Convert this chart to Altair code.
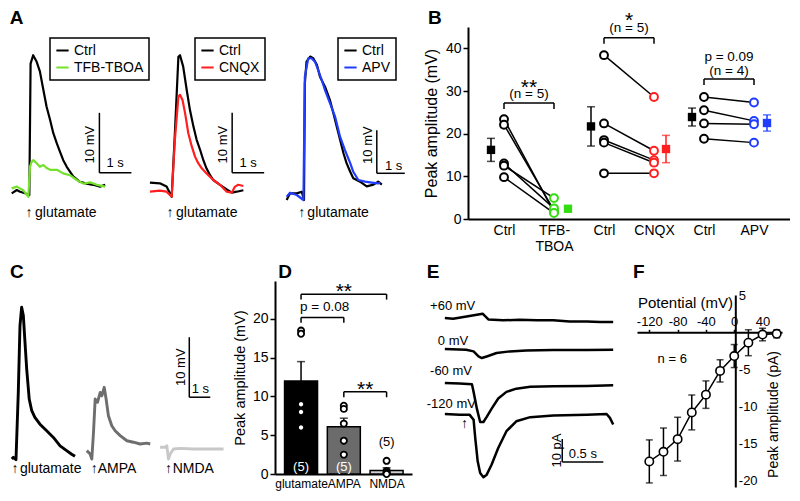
import json
import altair as alt
import pandas as pd

FONT = "Liberation Sans"
GREEN_TR = "#74e02c"
GREEN = "#33dd11"
RED = "#ff1f1f"
BLUE = "#1f3cff"

# ---------------- Panel A (t: s from puff, v: mV) ----------------
A1_ctrl_t = [-0.54, -0.38, -0.28, -0.125, 0.01, 0.05, 0.13, 0.24, 0.34, 0.45, 0.55, 0.66, 0.76, 0.87, 0.97, 1.07, 1.18, 1.28, 1.38, 1.59, 1.8, 2.01, 2.22, 2.38]
A1_ctrl_v = [0.28, 0.83, 0.55, 0.28, 0.0, 21.9, 23.3, 22.2, 20.6, 17.5, 14.7, 12.5, 10.3, 8.6, 7.2, 5.8, 4.7, 3.9, 3.1, 2.2, 1.9, 1.7, 1.4, 1.7]
A1_drug_t = [-0.54, -0.38, -0.18, -0.02, 0.03, 0.08, 0.13, 0.24, 0.34, 0.45, 0.55, 0.66, 0.87, 1.07, 1.28, 1.49, 1.7, 1.91, 2.12, 2.38]
A1_drug_v = [1.1, 1.4, 0.8, -0.3, 4.7, 5.5, 5.8, 5.3, 4.7, 5.0, 4.5, 4.2, 4.2, 3.6, 3.3, 2.5, 1.9, 2.1, 1.7, 1.4]

A2_ctrl_t = [-0.69, -0.38, -0.17, -0.01, 0.09, 0.2, 0.25, 0.35, 0.46, 0.56, 0.67, 0.77, 0.88, 0.98, 1.08, 1.19, 1.29, 1.5, 1.71, 1.87, 2.02, 2.23]
A2_ctrl_v = [2.05, 1.95, 1.4, -0.3, 10.3, 23.05, 23.3, 21.4, 17.5, 14.2, 11.4, 9.2, 7.5, 5.8, 4.4, 3.3, 2.5, 1.7, 0.95, 0.4, 0.55, 0.8]
A2_drug_t = [-0.69, -0.38, -0.17, -0.01, 0.09, 0.2, 0.25, 0.33, 0.41, 0.51, 0.62, 0.72, 0.82, 0.93, 1.08, 1.29, 1.5, 1.71, 1.87, 1.97, 2.07, 2.23]
A2_drug_v = [0.55, 0.72, 0.55, -0.28, 9.2, 16.4, 16.7, 15.8, 13.6, 10.3, 8.05, 6.4, 5.3, 4.45, 3.6, 2.5, 1.7, 0.55, 0.4, 1.4, 1.7, 1.5]

A3_ctrl_t = [-0.62, -0.5, -0.26, -0.08, 0.0, 0.03, 0.09, 0.22, 0.33, 0.46, 0.57, 0.75, 0.93, 1.05, 1.17, 1.29, 1.41, 1.52, 1.65, 1.76, 2.0, 2.24, 2.48, 2.65, 2.78]
A3_ctrl_v = [-1.16, 0.39, 0.39, 0.77, -1.16, 25.9, 31.0, 32.2, 31.8, 30.3, 27.5, 25.2, 22.0, 19.0, 15.9, 12.8, 9.7, 7.4, 5.4, 3.9, 3.1, 2.0, 2.4, 3.1, 2.4]
A3_drug_t = [-0.62, -0.5, -0.26, -0.02, 0.03, 0.15, 0.27, 0.39, 0.51, 0.63, 0.75, 0.93, 1.11, 1.29, 1.46, 1.65, 1.76, 1.94, 2.18, 2.42, 2.65, 2.72]
A3_drug_v = [-0.39, 0.53, 0.0, -1.16, 27.5, 31.8, 31.8, 31.0, 29.0, 26.8, 24.4, 21.3, 18.2, 13.5, 10.5, 7.4, 5.4, 3.5, 3.1, 2.9, 2.7, 2.9]

# ---------------- Panel B ----------------
B_pos_labels = [["Ctrl"], ["TFB-", "TBOA"], ["Ctrl"], ["CNQX"], ["Ctrl"], ["APV"]]
B_tfb_ctrl = [23.4, 22.1, 13.0, 12.5, 9.8]
B_tfb_drug = [1.6, 2.0, 2.5, 4.9, 1.4]
B_cnqx_ctrl = [38.4, 22.4, 18.5, 17.9, 10.7]
B_cnqx_drug = [28.6, 16.0, 13.8, 13.2, 10.7]
B_apv_ctrl = [28.6, 25.5, 22.4, 18.8]
B_apv_drug = [27.3, 23.0, 22.2, 17.9]
B_mean = [16.2, 2.4, 21.7, 16.4, 23.9, 22.5]
B_sem = [2.7, 0.5, 4.6, 3.2, 2.1, 1.9]
B_mean_pos = [0.74, 2.28, 2.74, 4.24, 4.76, 6.26]
B_groups = ["ctrl", "tfb", "ctrl", "cnqx", "ctrl", "apv"]

# ---------------- Panel C (T: s, v: mV) ----------------
C_glu_t = [-0.2, -0.13, 0, 0.11, 0.19, 0.27, 0.35, 0.43, 0.51, 0.63, 0.75, 0.9, 1.14, 1.46, 1.78, 2.1, 2.41, 2.65, 2.81]
C_glu_v = [0, 0.28, -0.1, 11.1, 22.2, 25.3, 23.9, 19.4, 15.0, 10.0, 8.05, 6.95, 5.8, 4.7, 3.6, 2.2, 1.4, 0.8, 0.45]
C_ampa_t = [-0.24, -0.08, 0, 0.08, 0.16, 0.27, 0.4, 0.48, 0.59, 0.68, 0.79, 0.95, 1.11, 1.35, 1.67, 1.98, 2.3, 2.62, 2.78]
C_ampa_v = [1.4, 0.83, 0, 4.45, 10.0, 9.45, 11.1, 10.55, 11.95, 10.0, 7.2, 5.55, 4.7, 3.9, 3.05, 2.8, 2.5, 2.65, 2.5]
C_nmda_t = [-0.32, -0.08, 0, 0.08, 0.16, 0.32, 0.63, 1.27, 1.9, 2.7]
C_nmda_v = [1.95, 1.95, 2.2, 0, 0.83, 1.67, 1.78, 1.67, 1.67, 1.67]
C_names = ["glutamate", "AMPA", "NMDA"]
C_colors = ["#000000", "#6e6e6e", "#c8c8c8"]
C_start = [0.38, 3.99, 7.56]

# ---------------- Panel D ----------------
D_cats = ["glutamate", "AMPA", "NMDA"]
D_mean = [12.0, 6.1, 0.45]
D_sem = [2.5, 1.1, 0.35]
D_pts = [[18.5, 18.1, 9.0, 8.0, 6.0], [8.8, 8.4, 6.5, 4.3, 2.5], [1.7, 0.4, 0.2, 0.1, 0.0]]
D_n = ["(5)", "(5)", "(5)"]
D_fill = ["#000000", "#6b6b6b", "#cfcfcf"]

# ---------------- Panel E (t: s, i: pA) ----------------
E_names = ["+60 mV", "0 mV", "-60 mV", "-120 mV"]
E_t = [
    [0, 0.1, 0.3, 0.46, 0.53, 0.71, 0.91, 1.12, 1.32, 1.52, 1.73, 1.89, 2.05],
    [0, 0.26, 0.35, 0.41, 0.45, 0.51, 0.63, 0.79, 0.99, 1.32, 1.73, 2.05],
    [0, 0.18, 0.33, 0.35, 0.39, 0.43, 0.47, 0.51, 0.57, 0.65, 0.75, 0.87, 1.04, 1.32, 1.73, 2.05],
    [0, 0.18, 0.3, 0.35, 0.37, 0.4, 0.43, 0.47, 0.51, 0.57, 0.65, 0.75, 0.87, 1.04, 1.32, 1.73, 1.97, 2.01, 2.05],
]
E_i = [
    [0, -0.3, 0.9, 1.9, -0.6, -1.0, -0.7, -1.0, -1.0, -1.5, -1.5, -1.7, -1.7],
    [0, -0.3, -1.0, -3.2, -3.9, -3.2, -1.7, -1.0, -0.6, -0.4, -0.4, -0.3],
    [0, -0.3, -0.6, -3.9, -11.2, -17.0, -17.0, -14.8, -11.2, -6.8, -3.9, -2.5, -1.7, -1.5, -1.3, -1.0],
    [0, -0.3, -0.3, -2.5, -10.4, -20.6, -25.7, -27.5, -26.4, -22.0, -14.8, -7.5, -3.2, -1.4, -0.7, -0.3, 0, -1.7, -4.6],
]
E_offset = [75.2, 61.7, 47.0, 33.5]

# ---------------- Panel F ----------------
F_V = [-120, -100, -80, -60, -40, -20, 0, 20, 40, 60]
F_I = [-17.4, -16.1, -14.4, -10.8, -8.4, -5.2, -3.2, -1.4, -0.3, -0.2]
F_sem = [2.9, 3.2, 2.95, 2.35, 1.85, 1.5, 1.55, 1.75, 0.85, 0.55]


# ================= helpers =================
def sc(dom):
    return alt.Scale(domain=dom, nice=False, zero=False)


def pos(dx, dy):
    return dict(x=alt.X("x:Q", scale=sc(dx), axis=None), y=alt.Y("y:Q", scale=sc(dy), axis=None))


def rules(df, enc, sw=1.5, color="black"):
    return alt.Chart(df).mark_rule(strokeWidth=sw, color=color).encode(**enc, x2="x2:Q", y2="y2:Q")


def texts(df, enc, **kw):
    style = dict(font=FONT, fontSize=14, color="black", align="left", baseline="middle")
    style.update(kw)
    return alt.Chart(df).mark_text(**style).encode(**enc, text="text:N")


def tdf(xs, ys, ts):
    return pd.DataFrame({"x": xs, "y": ys, "text": ts})


def scalebar(x0, y0, lx, ly):
    return pd.DataFrame({"x": [x0, x0], "y": [y0, y0], "x2": [x0, x0 + lx], "y2": [y0 + ly, y0]})


def errbars(xs, means, sems, extra=None):
    lo = [m - s for m, s in zip(means, sems)]
    hi = [m + s for m, s in zip(means, sems)]
    bar = pd.DataFrame({"x": xs, "y": lo, "y2": hi})
    caps = pd.DataFrame({"x": xs + xs, "y": lo + hi})
    if extra is not None:
        bar["g"] = extra
        caps["g"] = extra + extra
    return bar, caps


def spacer(w, h):
    return alt.Chart(pd.DataFrame({"x": [0]})).mark_point(opacity=0).encode(
        x=alt.X("x:Q", axis=None), y=alt.Y("x:Q", axis=None)).properties(width=w, height=h)


def a_panel(ct, cv, dt, dv, drug, dcol, dx, dy, w, h, lx, bar, tx10, tx1, arr_x, lab_x, lab_y, letter=None):
    df = pd.DataFrame({"x": ct + dt, "y": cv + dv, "c": ["Ctrl"] * len(ct) + [drug] * len(dt)})
    enc = pos(dx, dy)
    leg = alt.Legend(title=None, orient="none", legendX=lx, legendY=30, symbolType="stroke",
                     symbolSize=150, symbolStrokeWidth=2, strokeColor="black", padding=5,
                     labelFont=FONT, labelFontSize=14, labelColor="black", rowPadding=2,
                     labelOffset=4, labelLimit=0)
    lines = alt.Chart(df).mark_line(strokeWidth=2.2, strokeJoin="round").encode(
        **enc, color=alt.Color("c:N", scale=alt.Scale(domain=["Ctrl", drug], range=["black", dcol]), legend=leg))
    layers = [lines, rules(scalebar(bar[0], bar[1], 1, 10), enc),
              texts(tdf([tx10[0]], [tx10[1]], ["10 mV"]), enc, angle=270, align="center", fontSize=13),
              texts(tdf([tx1[0]], [tx1[1]], ["1 s"]), enc, align="center", fontSize=13),
              texts(tdf([arr_x], [lab_y], ["↑"]), enc, align="center", fontWeight="bold", fontSize=14),
              texts(tdf([lab_x], [lab_y], ["glutamate"]), enc)]
    if letter:
        layers.append(texts(tdf([letter[0]], [letter[1]], [letter[2]]), enc, fontWeight="bold", fontSize=19))
    return alt.layer(*layers).properties(width=w, height=h)


# ================= A =================
A1 = a_panel(A1_ctrl_t, A1_ctrl_v, A1_drug_t, A1_drug_v, "TFB-TBOA", GREEN_TR,
             [-0.656, 3.656], [-4, 31.17], 138, 211, 42, (2.2, 3.7), (1.92, 8.4), (2.69, 5.3),
             0.0, 0.19, -3.05, letter=(-0.6, 29.5, "A"))
A2 = a_panel(A2_ctrl_t, A2_ctrl_v, A2_drug_t, A2_drug_v, "CNQX", RED,
             [-0.8125, 3.4375], [-4, 31.17], 136, 211, 49, (1.88, 3.7), (1.59, 8.4), (2.38, 5.3),
             -0.06, 0.125, -3.05)
A3 = a_panel(A3_ctrl_t, A3_ctrl_v, A3_drug_t, A3_drug_v, "APV", BLUE,
             [-0.786, 5.857], [-5.58, 43.49], 186, 211, 56, (2.6, 5.05), (2.27, 11.6), (3.2, 6.7),
             -0.08, 0.12, -4.26)

# ================= B =================
rows = []
pid = 0
for cvals, dvals, cpos, g in [(B_tfb_ctrl, B_tfb_drug, 1, "tfb"), (B_cnqx_ctrl, B_cnqx_drug, 3, "cnqx"),
                              (B_apv_ctrl, B_apv_drug, 5, "apv")]:
    for a, b in zip(cvals, dvals):
        rows.append({"pid": pid, "x": cpos, "y": a, "g": "ctrl"})
        rows.append({"pid": pid, "x": cpos + 1, "y": b, "g": g})
        pid += 1
B_pairs = pd.DataFrame(rows)
B_means = pd.DataFrame({"x": B_mean_pos, "y": B_mean, "g": B_groups})
B_err, B_caps = errbars(B_mean_pos, B_mean, B_sem, B_groups)
bcol = alt.Scale(domain=["ctrl", "tfb", "cnqx", "apv"], range=["black", GREEN, RED, BLUE])

BX = alt.X("x:Q", scale=sc([0.28, 6.72]),
           axis=alt.Axis(values=[1, 2, 3, 4, 5, 6], labelExpr=json.dumps(B_pos_labels) + "[datum.value - 1]",
                         ticks=False, grid=False, title=None, domainWidth=2, labelFontSize=14, labelPadding=4,
                         labelLineHeight=16, labelFlush=False, labelOverlap=False))
BY = alt.Y("y:Q", scale=sc([0, 45]),
           axis=alt.Axis(values=[0, 10, 20, 30, 40], title="Peak amplitude (mV)", grid=False, tickSize=5,
                         tickWidth=1.5, domainWidth=2, labelFontSize=14, titleFontSize=16, titlePadding=6,
                         labelPadding=2, labelFlush=False))
benc = dict(x=BX, y=BY)
gcol = alt.Color("g:N", scale=bcol, legend=None)

B_br = [(1, 2, 27.2, 25.8), (3, 4, 42.5, 41.1), (5, 6, 32.8, 31.4)]
br_rows = []
for x1, x2, top, bot in B_br:
    br_rows += [{"x": x1, "x2": x2, "y": top, "y2": top}, {"x": x1, "x2": x1, "y": bot, "y2": top},
                {"x": x2, "x2": x2, "y": bot, "y2": top}]

B = alt.layer(
    alt.Chart(B_pairs).mark_line(color="black", strokeWidth=1.5).encode(**benc, detail="pid:N"),
    alt.Chart(B_pairs).mark_circle(fill="white", strokeWidth=2, size=62, opacity=1).encode(
        **benc, stroke=alt.Stroke("g:N", scale=bcol, legend=None)),
    alt.Chart(B_err).mark_rule(strokeWidth=1.5).encode(**benc, y2="y2:Q", color=gcol),
    alt.Chart(B_caps).mark_tick(orient="horizontal", size=8, thickness=1.5).encode(**benc, color=gcol),
    alt.Chart(B_means).mark_square(size=70, opacity=1).encode(**benc, color=gcol),
    rules(pd.DataFrame(br_rows), benc),
    texts(tdf([1.5, 3.5], [29.4, 44.9], ["**", "*"]), benc, align="center", baseline="alphabetic", fontSize=21),
    texts(tdf([1.5, 3.5, 5.5, 5.5], [29.2, 44.8, 37.9, 34.6], ["(n = 5)", "(n = 5)", "p = 0.09", "(n = 4)"]),
          benc, align="center", fontSize=13.5),
    texts(tdf([-0.52], [47.1], ["B"]), benc, fontWeight="bold", fontSize=19),
).properties(width=322, height=192)

# ================= C =================
cdx, cdy = [0, 12.71], [-5.33, 29.67]
cenc = pos(cdx, cdy)
crow = []
for name, ts, vs, st in zip(C_names, [C_glu_t, C_ampa_t, C_nmda_t], [C_glu_v, C_ampa_v, C_nmda_v], C_start):
    for t, v in zip(ts, vs):
        crow.append({"x": t + st, "y": v, "id": name})
C_df = pd.DataFrame(crow)
C = alt.layer(
    alt.Chart(C_df).mark_line(strokeWidth=2.9, strokeJoin="round").encode(
        **cenc, color=alt.Color("id:N", scale=alt.Scale(domain=C_names, range=C_colors), legend=None)),
    rules(scalebar(8.63, 10.3, 1, 10), cenc),
    texts(tdf([8.24], [15.3], ["10 mV"]), cenc, angle=270, align="center", fontSize=13),
    texts(tdf([9.16], [11.7], ["1 s"]), cenc, align="center", fontSize=13),
    texts(tdf([0.33, 4.11, 7.64], [-1.67, -1.67, -1.67], ["↑", "↑", "↑"]), cenc, align="center", fontWeight="bold"),
    texts(tdf([0.57, 4.27, 7.84], [-1.67, -1.67, -1.67], C_names), cenc),
    texts(tdf([0.1, 12.86], [31.2, 31.1], ["C", "D"]), cenc, fontWeight="bold", fontSize=19),
).properties(width=267, height=210)

# ================= D =================
DX = alt.X("x:Q", scale=sc([0.508, 3.477]),
           axis=alt.Axis(values=[1, 2, 3], labelExpr=json.dumps(D_cats) + "[datum.value - 1]", ticks=False,
                         grid=False, title=None, domainWidth=2, labelFontSize=12, labelPadding=4,
                         labelFlush=False, labelOverlap=False))
DY = alt.Y("y:Q", scale=sc([0, 24.9]),
           axis=alt.Axis(values=[0, 5, 10, 15, 20], title="Peak amplitude (mV)", grid=False, tickSize=5,
                         tickWidth=1.5, domainWidth=2, labelFontSize=14, titleFontSize=14.5, titlePadding=5,
                         labelPadding=2, labelFlush=False))
denc = dict(x=DX, y=DY)
D_bars = pd.DataFrame({"x": [1, 2, 3], "y": D_mean, "cat": D_cats})
D_err = pd.DataFrame({"x": [1, 2, 3], "y": D_mean, "y2": [m + s for m, s in zip(D_mean, D_sem)]})
D_caps = pd.DataFrame({"x": [1, 2, 3], "y": [m + s for m, s in zip(D_mean, D_sem)]})
D_points = pd.DataFrame([{"x": i + 1, "y": v} for i, vals in enumerate(D_pts) for v in vals])
D_br = [(1, 3, 23.2, 22.5), (1, 2, 20.2, 19.5), (2, 3, 10.6, 9.9)]
dbr = []
for x1, x2, top, bot in D_br:
    dbr += [{"x": x1, "x2": x2, "y": top, "y2": top}, {"x": x1, "x2": x1, "y": bot, "y2": top},
            {"x": x2, "x2": x2, "y": bot, "y2": top}]
D = alt.layer(
    alt.Chart(D_bars).mark_bar(size=33, stroke="black", strokeWidth=1.5).encode(
        **denc, fill=alt.Fill("cat:N", scale=alt.Scale(domain=D_cats, range=D_fill), legend=None)),
    alt.Chart(D_err).mark_rule(strokeWidth=1.5, color="black").encode(**denc, y2="y2:Q"),
    alt.Chart(D_caps).mark_tick(orient="horizontal", size=8, thickness=1.5, color="black").encode(**denc),
    alt.Chart(D_points).mark_circle(fill="white", stroke="black", strokeWidth=1.8, size=38, opacity=1).encode(**denc),
    rules(pd.DataFrame(dbr), denc),
    texts(tdf([2.0, 2.5], [22.7, 10.0], ["**", "**"]), denc, align="center", baseline="alphabetic", fontSize=21),
    texts(tdf([1.55], [21.6], ["p = 0.08"]), denc, align="center", fontSize=13.5),
    texts(tdf([1, 2], [0.9, 0.9], D_n[:2]), denc, align="center", fontSize=13, color="white"),
    texts(tdf([3], [4.1], D_n[2:]), denc, align="center", fontSize=13),
).properties(width=137, height=193)

# ================= E =================
edx, edy = [-0.40, 2.34], [0, 91.3]
eenc = pos(edx, edy)
erow = []
for name, ts, vs, off in zip(E_names, E_t, E_i, E_offset):
    for t, v in zip(ts, vs):
        erow.append({"x": t, "y": v + off, "id": name})
E_df = pd.DataFrame(erow)
E = alt.layer(
    alt.Chart(E_df).mark_line(strokeWidth=2.5, color="black", strokeJoin="round").encode(**eenc, detail="id:N"),
    rules(scalebar(1.43, 12.6, 0.5, 10), eenc),
    texts(tdf([1.36], [17.6], ["10 pA"]), eenc, angle=270, align="center", fontSize=13),
    texts(tdf([1.68], [16.1], ["0.5 s"]), eenc, align="center", fontSize=13),
    texts(tdf([-0.18, -0.085, -0.18, -0.22], [80.6, 65.3, 52.3, 37.8], E_names), eenc, fontSize=13),
    texts(tdf([0.24], [29.1], ["↑"]), eenc, align="center", fontWeight="bold"),
    texts(tdf([-0.22], [95.2], ["E"]), eenc, fontWeight="bold", fontSize=19),
).properties(width=225, height=210)

# ================= F =================
fdx, fdy = [-137.4, 67.5], [-20.85, 5.03]
FX = alt.X("x:Q", scale=sc(fdx),
           axis=alt.Axis(orient="top", offset=-37.3, values=[-120, -80, -40, 0, 40],
                         labelExpr="datum.value == 0 ? '\u00a0\u00a0\u00a0\u00a00' : '' + datum.value",
                         tickSize=3, tickWidth=1.5, domainWidth=2, grid=False, labelFontSize=13, labelPadding=1,
                         labelFlush=False, labelOverlap=False, title="Potential (mV)", titleFontSize=15,
                         titleX=48, titleY=-30, titleAlign="center", titleBaseline="middle"))
FY = alt.Y("y:Q", scale=sc(fdy),
           axis=alt.Axis(orient="right", offset=-46.7, values=[5, -5, -10, -15, -20], labelExpr="'' + datum.value",
                         ticks=False, tickSize=0, domainWidth=2, grid=False, labelFontSize=13, labelPadding=3,
                         labelFlush=False, labelOverlap=False, title="Peak amplitude (pA)", titleFontSize=14,
                         titleAngle=270, titleX=38, titleY=119, titleAlign="center", titleBaseline="middle"))
fenc = dict(x=FX, y=FY)
F_df = pd.DataFrame({"x": F_V, "y": F_I})
F_err, F_caps = errbars(F_V, F_I, F_sem)
F = alt.layer(
    alt.Chart(F_df).mark_line(strokeWidth=1.5, color="black").encode(**fenc),
    alt.Chart(F_err).mark_rule(strokeWidth=1.5, color="black").encode(**fenc, y2="y2:Q"),
    alt.Chart(F_caps).mark_tick(orient="horizontal", size=7, thickness=1.5, color="black").encode(**fenc),
    alt.Chart(F_df).mark_circle(fill="white", stroke="black", strokeWidth=1.6, size=70, opacity=1).encode(**fenc),
    texts(tdf([-87.6], [-3.6], ["n = 6"]), fenc, align="center", fontSize=13),
    texts(tdf([-143], [8.1], ["F"]), fenc, fontWeight="bold", fontSize=19),
).properties(width=145, height=192)

RES = dict(x="independent", y="independent", color="independent", fill="independent", stroke="independent")

colB = alt.vconcat(spacer(322, 19), B, spacing=0, bounds="flush").resolve_scale(**RES)
colF = alt.vconcat(spacer(145, 14), F, spacing=0, bounds="flush").resolve_scale(**RES)
row1 = alt.hconcat(A1, A2, A3, colB, spacing=0, bounds="flush").resolve_scale(**RES).resolve_legend(color="independent")
row2 = alt.hconcat(C, D, E, colF, spacing=0, bounds="flush").resolve_scale(**RES)

chart = alt.vconcat(row1, row2, spacing=9).resolve_scale(**RES).resolve_legend(
    color="independent").properties(padding=0).configure_view(strokeWidth=0).configure_axis(
    labelFont=FONT, titleFont=FONT, labelColor="black", titleColor="black", domainColor="black",
    tickColor="black", titleFontWeight="normal").configure_legend(strokeWidth=1.5)

chart.save("out.html", embed_options={"renderer": "svg", "actions": False})
